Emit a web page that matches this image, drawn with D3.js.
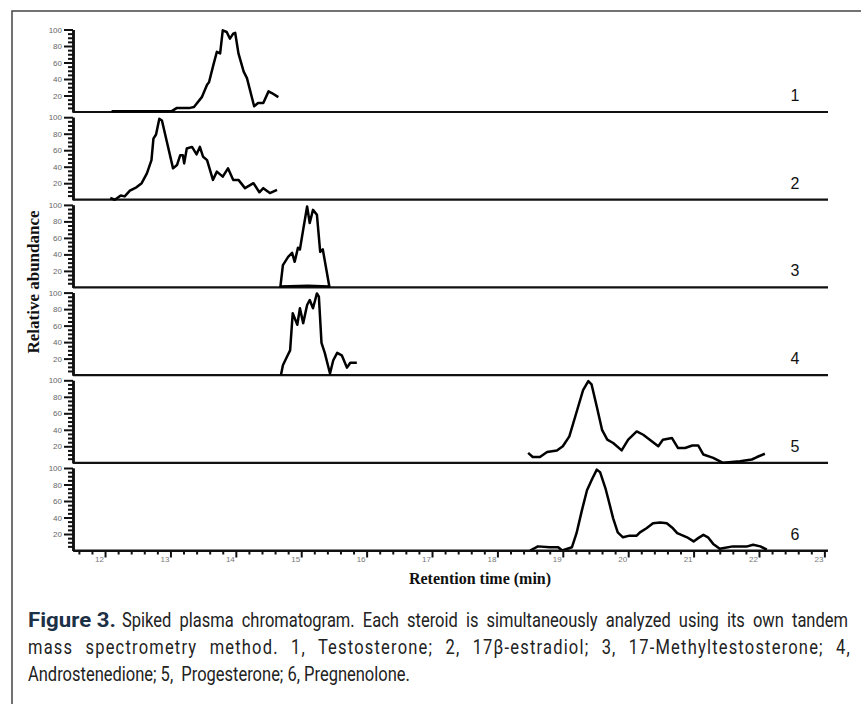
<!DOCTYPE html>
<html>
<head>
<meta charset="utf-8">
<script src="https://cdn.jsdelivr.net/npm/d3@7"></script>
<style>
  body { margin: 0; background: #fff; }
</style>
</head>
<body>
<script>
// retention times (min) and relative abundance (%) for each trace
var t1 = [12.10, 13.02, 13.10, 13.30, 13.36, 13.48, 13.56, 13.59, 13.65, 13.71, 13.76, 13.80, 13.86, 13.91, 13.96, 13.99, 14.04, 14.12, 14.17, 14.28, 14.34, 14.42, 14.50, 14.55, 14.65];
var a1 = [1, 1, 5, 5, 6, 18, 33, 36, 55, 73, 71, 99, 97, 89, 95, 96, 71, 49, 41, 7, 11, 11, 25, 23, 18];

var t2 = [12.08, 12.15, 12.24, 12.30, 12.38, 12.48, 12.56, 12.64, 12.71, 12.74, 12.78, 12.83, 12.87, 12.94, 13.04, 13.10, 13.15, 13.19, 13.21, 13.25, 13.33, 13.40, 13.45, 13.50, 13.56, 13.65, 13.71, 13.80, 13.88, 13.96, 14.04, 14.14, 14.27, 14.36, 14.42, 14.52, 14.63];
var a2 = [2, 0, 5, 4, 11, 15, 20, 32, 48, 74, 79, 98, 96, 72, 38, 42, 54, 54, 44, 62, 64, 55, 64, 52, 48, 24, 34, 28, 38, 24, 24, 14, 20, 9, 14, 8, 12];

var t3 = [14.68, 14.72, 14.80, 14.86, 14.90, 14.95, 14.98, 15.03, 15.09, 15.13, 15.18, 15.24, 15.29, 15.33, 15.43, 15.10, 14.68];
var a3 = [0, 27, 37, 42, 31, 48, 46, 70, 98, 78, 94, 88, 43, 46, 1, 2, 1];

var t4 = [14.69, 14.72, 14.78, 14.83, 14.87, 14.94, 14.98, 15.03, 15.09, 15.13, 15.18, 15.24, 15.27, 15.31, 15.36, 15.44, 15.49, 15.55, 15.62, 15.70, 15.75, 15.85];
var a4 = [0, 12, 22, 30, 75, 61, 81, 63, 85, 91, 81, 99, 95, 39, 27, 2, 18, 27, 24, 9, 15, 15];

var t5 = [18.47, 18.54, 18.65, 18.76, 18.91, 19.00, 19.10, 19.22, 19.31, 19.39, 19.44, 19.52, 19.60, 19.68, 19.77, 19.90, 20.00, 20.13, 20.23, 20.33, 20.46, 20.53, 20.67, 20.76, 20.87, 20.98, 21.07, 21.15, 21.30, 21.45, 21.71, 21.89, 21.97, 22.09];
var a5 = [12, 7, 7, 13, 15, 20, 32, 64, 88, 99, 95, 68, 40, 28, 24, 15, 28, 38, 34, 28, 20, 28, 30, 18, 18, 21, 21, 10, 6, 0, 2, 4, 7, 11];

var t6 = [18.50, 18.62, 18.80, 18.93, 18.99, 19.14, 19.21, 19.29, 19.37, 19.45, 19.52, 19.57, 19.65, 19.69, 19.77, 19.84, 19.92, 20.02, 20.13, 20.18, 20.28, 20.38, 20.49, 20.59, 20.67, 20.75, 20.90, 21.00, 21.07, 21.15, 21.22, 21.30, 21.40, 21.60, 21.82, 21.91, 22.02, 22.12];
var a6 = [0, 5, 4, 4, 0, 4, 21, 48, 73, 87, 98, 95, 76, 64, 39, 22, 16, 18, 18, 22, 27, 33, 34, 33, 28, 21, 16, 11, 15, 19, 16, 8, 2, 5, 5, 7, 5, 1];

var traceLabels = ["1", "2", "3", "4", "5", "6"];
var xMajorTicks = [12, 13, 14, 15, 16, 17, 18, 19, 20, 21, 22, 23];
var yMajorTicks = [20, 40, 60, 80, 100];

var captionBold = "Figure 3.";
var captionLines = [
  "Spiked plasma chromatogram. Each steroid is simultaneously analyzed using its own tandem",
  "mass spectrometry method. 1, Testosterone; 2, 17\u03b2-estradiol; 3, 17-Methyltestosterone; 4,",
  "Androstenedione; 5,  Progesterone; 6, Pregnenolone."
];

var traces = [[t1, a1], [t2, a2], [t3, a3], [t4, a4], [t5, a5], [t6, a6]];

var width = 861, height = 704;
var plotLeft = 73, plotRight = 827;
var panelTop = 24.3, panelH = 87.7;

var svg = d3.select("body").append("svg").attr("width", width).attr("height", height);

// frame (left + top only)
svg.append("path")
  .attr("d", "M12,704 L12,11 L861,11")
  .attr("fill", "none")
  .attr("stroke", "#444")
  .attr("stroke-width", 1.5);

var x = d3.scaleLinear().domain([11.51, 23.04]).range([plotLeft, plotRight]);

var minorY = d3.range(5, 100, 5).filter(function(v) { return v % 20 != 0; });
var minorX = d3.range(11.6, 23.01, 0.2).filter(function(v) { return Math.abs(v - Math.round(v)) > 0.05; });

traces.forEach(function(tr, i) {
  var base = panelTop + (i + 1) * panelH;
  var y = d3.scaleLinear().domain([0, 100]).range([base, base - 82.5]);
  var g = svg.append("g");

  // y axis: minor + major ticks
  var yMinor = g.append("g").attr("transform", "translate(" + plotLeft + ",0)")
    .call(d3.axisLeft(y).tickValues(minorY).tickSize(5).tickSizeOuter(0).tickFormat(""));
  var yMajor = g.append("g").attr("transform", "translate(" + plotLeft + ",0)")
    .call(d3.axisLeft(y).tickValues(yMajorTicks).tickSize(9).tickSizeOuter(0));
  [yMinor, yMajor].forEach(function(ax) {
    ax.select(".domain").attr("stroke", "#111").attr("stroke-width", 2.5);
    ax.selectAll(".tick line").attr("stroke", "#111").attr("stroke-width", 2);
  });
  yMajor.selectAll(".tick text")
    .attr("font-family", "Liberation Sans, Arial, sans-serif")
    .attr("font-size", "8px")
    .attr("fill", "#666")
    .attr("x", -11);

  // baseline
  g.append("line")
    .attr("x1", plotLeft).attr("x2", plotRight + 1)
    .attr("y1", base).attr("y2", base)
    .attr("stroke", "#111").attr("stroke-width", 2.2);

  // trace
  var pts = tr[0].map(function(t, k) { return [t, tr[1][k]]; });
  var line = d3.line()
    .x(function(d) { return x(d[0]); })
    .y(function(d) { return y(d[1]); });
  g.append("path")
    .datum(pts)
    .attr("d", line)
    .attr("fill", "none")
    .attr("stroke", "#000")
    .attr("stroke-width", 2.5)
    .attr("stroke-linejoin", "round");

  g.append("text")
    .attr("x", 795).attr("y", base - 11)
    .attr("text-anchor", "middle")
    .attr("font-family", "Liberation Sans, Arial, sans-serif")
    .attr("font-size", "16px")
    .attr("fill", "#111")
    .text(traceLabels[i]);
});

// x axis
var xBase = panelTop + 6 * panelH;
var xMinorAx = svg.append("g").attr("transform", "translate(0," + xBase + ")")
  .call(d3.axisBottom(x).tickValues(minorX).tickSize(4).tickSizeOuter(0).tickFormat(""));
var xMajorAx = svg.append("g").attr("transform", "translate(0," + xBase + ")")
  .call(d3.axisBottom(x).tickValues(xMajorTicks).tickSize(7).tickSizeOuter(0));
[xMinorAx, xMajorAx].forEach(function(ax) {
  ax.select(".domain").attr("stroke", "#111").attr("stroke-width", 2.2);
  ax.selectAll(".tick line").attr("stroke", "#111").attr("stroke-width", 2);
});
xMajorAx.selectAll(".tick text")
  .attr("font-family", "Liberation Sans, Arial, sans-serif")
  .attr("font-size", "8px")
  .attr("fill", "#777")
  .attr("x", -6)
  .attr("y", 6);

// axis titles
svg.append("text")
  .attr("transform", "translate(39,282) rotate(-90)")
  .attr("text-anchor", "middle")
  .attr("font-family", "Liberation Serif, Times New Roman, serif")
  .attr("font-weight", "bold")
  .attr("font-size", "17px")
  .attr("fill", "#111")
  .text("Relative abundance");

svg.append("text")
  .attr("x", 480).attr("y", 584)
  .attr("text-anchor", "middle")
  .attr("font-family", "Liberation Serif, Times New Roman, serif")
  .attr("font-weight", "bold")
  .attr("font-size", "16px")
  .attr("fill", "#111")
  .text("Retention time (min)");

// caption: condensed look by horizontal scaling, lines 1-2 justified
var capFont = "Roboto, Arial, sans-serif";
var capSize = 21;

function capText(s, bold) {
  return svg.append("text")
    .attr("font-family", capFont)
    .attr("font-weight", bold ? "bold" : "normal")
    .attr("font-size", capSize + "px")
    .attr("fill", bold ? "#1d3146" : "#222")
    .style("white-space", "pre")
    .text(s);
}

// squeeze factor from the left-aligned last line
var last = capText(captionLines[2], false);
var sx = 382 / last.node().getComputedTextLength();
last.attr("transform", "translate(28,681) scale(" + sx + ",1)");

var fig = capText(captionBold, true);
var fsx = 88 / fig.node().getComputedTextLength();
fig.attr("transform", "translate(28,627) scale(" + fsx + ",1)");

var capPos = [[122, 627, 726], [28, 654, 823]];
capPos.forEach(function(p, i) {
  var s = captionLines[i];
  var t = capText(s, false);
  var nat = t.node().getComputedTextLength();
  var gaps = s.split(" ").length - 1;
  var extra = p[2] / sx - nat;
  // word gaps take up to ~7px each, the rest goes into letter spacing
  var ws = Math.min(extra / gaps, 7 / sx);
  var ls = Math.max(0, (extra - ws * gaps) / (s.length - 1));
  t.style("word-spacing", ws + "px").style("letter-spacing", ls + "px");
  t.attr("textLength", p[2] / sx).attr("lengthAdjust", "spacing");
  t.attr("transform", "translate(" + p[0] + "," + p[1] + ") scale(" + sx + ",1)");
});
</script>
</body>
</html>
